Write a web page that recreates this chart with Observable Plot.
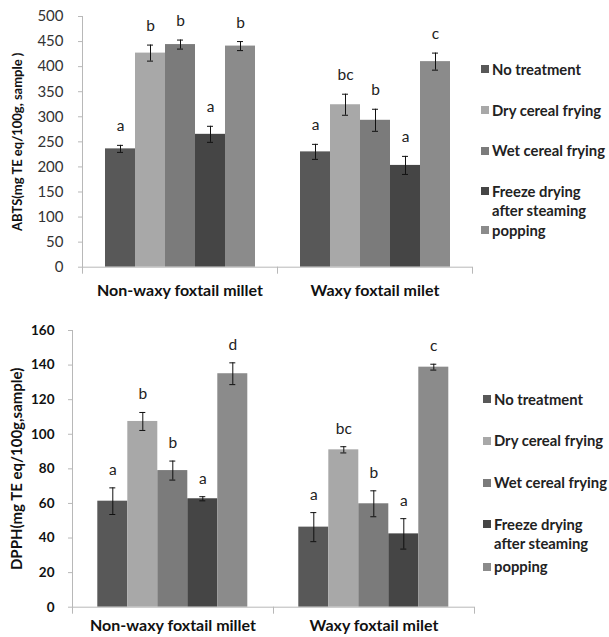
<!DOCTYPE html>
<html><head><meta charset="utf-8">
<script src="https://cdn.jsdelivr.net/npm/d3@7"></script>
<script src="https://cdn.jsdelivr.net/npm/@observablehq/plot@0.6"></script>
<style>
body{margin:0;background:#fff;}
#root{position:relative;width:609px;height:637px;overflow:hidden;background:#fff;font-family:Lato,sans-serif;}
.panel{position:absolute;left:0;}
.legend{position:absolute;width:128px;font-family:Lato,sans-serif;font-weight:bold;font-size:14.8px;color:#222;display:flex;flex-direction:column;}
.legend .item{display:flex;align-items:flex-start;}
.legend .sw{width:8px;height:8px;margin-right:3px;flex:none;}
.legend .lab{width:116px;white-space:normal;}
</style></head><body><div id="root"></div>
<script>
const groups = ["Non-waxy foxtail millet", "Waxy foxtail milet"];
const treatments = ["No treatment", "Dry cereal frying", "Wet cereal frying", "Freeze drying after steaming", "popping"];
const colors = ["#585858", "#a8a8a8", "#7b7b7b", "#454545", "#8b8b8b"];

const abtsNonWaxy = [236, 427, 444, 265, 441];
const abtsNonWaxyErr = [7, 16, 9, 16, 9];
const abtsNonWaxyLetters = ["a", "b", "b", "a", "b"];
const abtsWaxy = [230, 324, 293, 203, 410];
const abtsWaxyErr = [15, 21, 22, 18, 17];
const abtsWaxyLetters = ["a", "bc", "b", "a", "c"];

const dpphNonWaxy = [61.3, 107.4, 79, 62.7, 135];
const dpphNonWaxyErr = [7.7, 5.2, 5.5, 1.2, 6.3];
const dpphNonWaxyLetters = ["a", "b", "b", "a", "d"];
const dpphWaxy = [46.3, 91, 59.8, 42.4, 138.8];
const dpphWaxyErr = [8.4, 1.8, 7.5, 8.8, 1.7];
const dpphWaxyLetters = ["a", "bc", "b", "a", "c"];

const abtsTicks = [0, 50, 100, 150, 200, 250, 300, 350, 400, 450, 500];
const dpphTicks = [0, 20, 40, 60, 80, 100, 120, 140, 160];

function rowsFrom(seriesList) {
  const rows = [];
  seriesList.forEach(([vals, errs, letters], gi) => {
    treatments.forEach((t, i) => rows.push({group: groups[gi], treatment: t, value: vals[i], err: errs[i], letter: letters[i]}));
  });
  return rows;
}

const axisColor = "#b8b8b8";

function panel(o) {
  const frameH = o.height - o.marginTop - o.marginBottom;
  return Plot.plot({
    width: 609, height: o.height,
    marginLeft: o.marginLeft, marginRight: o.marginRight, marginTop: o.marginTop, marginBottom: o.marginBottom,
    style: {fontFamily: "Lato, sans-serif", background: "white", color: "#222", overflow: "visible"},
    fx: {domain: groups, padding: 0},
    x: {domain: treatments, paddingInner: 0, paddingOuter: o.pad, axis: null},
    y: {domain: [0, o.ticks[o.ticks.length - 1]]},
    color: {domain: treatments, range: colors},
    marks: [
      Plot.barY(o.rows, {fx: "group", x: "treatment", y: "value", fill: "treatment"}),
      Plot.ruleX(o.rows, {fx: "group", x: "treatment", y1: d => d.value - d.err, y2: d => d.value + d.err, stroke: "#111"}),
      Plot.tickY(o.rows, {fx: "group", x: "treatment", y: d => d.value - d.err, stroke: "#111", insetLeft: 12, insetRight: 12}),
      Plot.tickY(o.rows, {fx: "group", x: "treatment", y: d => d.value + d.err, stroke: "#111", insetLeft: 12, insetRight: 12}),
      Plot.text(o.rows, {fx: "group", x: "treatment", y: d => d.value + d.err, text: "letter", dy: o.letterDy, fontSize: 15.5, fill: "#222"}),
      Plot.ruleY([0], {stroke: axisColor}),
      Plot.frame({anchor: "left", facetAnchor: "left", stroke: axisColor, insetBottom: -6}),
      Plot.frame({anchor: "right", stroke: axisColor, insetTop: frameH, insetBottom: -6}),
      Plot.axisY({ticks: o.ticks, tickSize: 4, tickPadding: o.tickPadding, stroke: axisColor, fill: o.tickFill,
        fontSize: o.tickFont, fontWeight: o.tickWeight, label: null}),
      Plot.axisY({ticks: o.ticks, tickSize: 0, tickFormat: () => "", fill: "#111",
        fontSize: o.labelFont, fontWeight: "bold", label: o.label, labelAnchor: "center", labelArrow: "none",
        labelOffset: o.labelOffset, dy: o.labelDy}),
      Plot.axisFx({anchor: "bottom", tickSize: 0, tickPadding: o.catPad, fontSize: 16, fontWeight: "bold", fill: "#111", label: null})
    ]
  });
}

function legend(left, topPx, lineH, gap, lastGap) {
  const div = document.createElement("div");
  div.className = "legend";
  div.style.left = left + "px";
  div.style.top = topPx + "px";
  div.style.lineHeight = lineH + "px";
  treatments.forEach((t, i) => {
    const it = document.createElement("div");
    it.className = "item";
    if (i > 0) it.style.marginTop = (i === treatments.length - 1 ? lastGap : gap) + "px";
    const sw = document.createElement("span");
    sw.className = "sw";
    sw.style.background = colors[i];
    sw.style.marginTop = ((lineH - 8) / 2) + "px";
    const lab = document.createElement("span");
    lab.className = "lab";
    lab.textContent = t;
    it.append(sw, lab);
    div.append(it);
  });
  return div;
}

const root = document.getElementById("root");

const topChart = panel({
  rows: rowsFrom([[abtsNonWaxy, abtsNonWaxyErr, abtsNonWaxyLetters], [abtsWaxy, abtsWaxyErr, abtsWaxyLetters]]),
  height: 310, marginLeft: 81, marginRight: 137, marginTop: 16, marginBottom: 43.3,
  pad: 0.73, ticks: abtsTicks, tickPadding: 15, tickFill: "#333", tickFont: 15, tickWeight: "normal",
  label: "ABTS(mg TE eq/100g, sample )", labelFont: 13, labelOffset: 70, labelDy: -15, catPad: 17.5, letterDy: -19
});
topChart.classList.add("panel");
topChart.style.top = "0px";
root.append(topChart);

const bottomChart = panel({
  rows: rowsFrom([[dpphNonWaxy, dpphNonWaxyErr, dpphNonWaxyLetters], [dpphWaxy, dpphWaxyErr, dpphWaxyLetters]]),
  height: 317, marginLeft: 71.7, marginRight: 134, marginTop: 10, marginBottom: 30.3,
  pad: 0.75, ticks: dpphTicks, tickPadding: 14, tickFill: "#111", tickFont: 13.5, tickWeight: "bold",
  label: "DPPH(mg TE eq/100g,sample)", labelFont: 15, labelOffset: 61, labelDy: 5.5, catPad: 12.5, letterDy: -18
});
bottomChart.classList.add("panel");
bottomChart.style.top = "320px";
root.append(bottomChart);

root.append(legend(481, 60, 18.5, 22.2, 1.5));
root.append(legend(483, 389.5, 19.7, 22, 3));
</script></body></html>
